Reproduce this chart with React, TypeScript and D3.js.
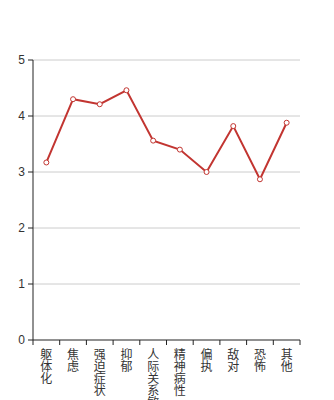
import React from "react";
import * as d3 from "d3";

const categories = ["躯体化", "焦虑", "强迫症状", "抑郁", "人际关系敏", "精神病性", "偏执", "敌对", "恐怖", "其他"];
const values = [3.17, 4.3, 4.21, 4.46, 3.56, 3.4, 3.0, 3.82, 2.87, 3.88];
const yTicks = [0, 1, 2, 3, 4, 5];

export default function App() {
  const W = 334, H = 400;
  const left = 33, right = 300, top = 60, bottom = 340;
  const x = d3.scaleBand<string>().domain(categories).range([left, right]);
  const y = d3.scaleLinear().domain([0, 5]).range([bottom, top]);
  const line = d3.line<number>().x((_, i) => x(categories[i])! + x.bandwidth() / 2).y(d => y(d));
  const bounds = categories.map(c => x(c)!).concat([right]);
  return (
    <svg width={W} height={H} style={{ position: "absolute", left: 0, top: 0 }} fontFamily="'Liberation Sans', Arial, sans-serif">
      {yTicks.map(t => (
        <g key={t}>
          {t > 0 && <line x1={left} x2={right} y1={y(t)} y2={y(t)} stroke="#ccc" strokeWidth={1} />}
          <line x1={left - 5} x2={left} y1={y(t)} y2={y(t)} stroke="#222" />
          <text x={left - 8} y={y(t)} dy="0.35em" textAnchor="end" fontSize={12} fill="#333">{t}</text>
        </g>
      ))}
      <line x1={left} x2={left} y1={top} y2={bottom} stroke="#222" />
      <line x1={left} x2={right} y1={bottom} y2={bottom} stroke="#222" />
      {bounds.map((b, i) => (
        <line key={i} x1={b} x2={b} y1={bottom} y2={bottom + 5} stroke="#222" />
      ))}
      {categories.map(c => (
        <text key={c} fontSize={12} fill="#333" textAnchor="middle" fontFamily="'Noto Sans CJK SC', sans-serif">
          {Array.from(c).map((ch, j) => (
            <tspan key={j} x={x(c)! + x.bandwidth() / 2} y={bottom + 19 + j * 12}>{ch}</tspan>
          ))}
        </text>
      ))}
      <path d={line(values)!} fill="none" stroke="#c23531" strokeWidth={2} />
      {values.map((v, i) => (
        <circle key={i} cx={x(categories[i])! + x.bandwidth() / 2} cy={y(v)} r={2.5} fill="#fff" stroke="#c23531" strokeWidth={1} />
      ))}
    </svg>
  );
}
